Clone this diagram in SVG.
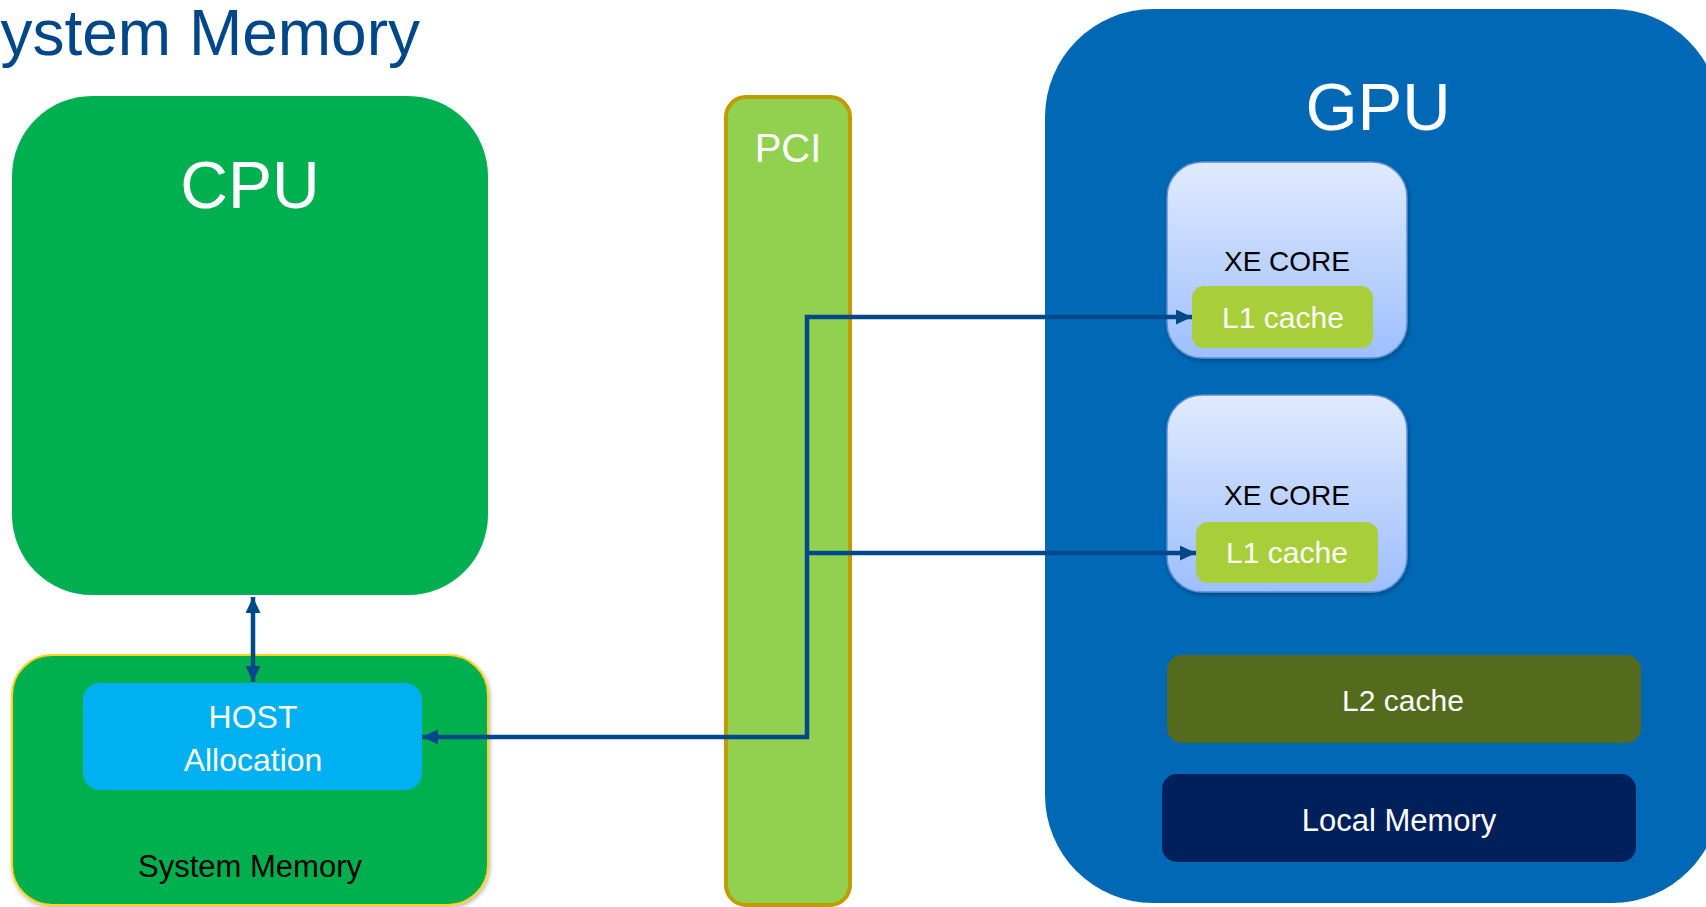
<svg xmlns="http://www.w3.org/2000/svg" width="1706" height="907" viewBox="0 0 1706 907">
  <style>
    text { font-family: "Liberation Sans", Arial, sans-serif; text-anchor: middle; }
    .white { fill: #ffffff; }
    .black { fill: #000000; }
    .link { fill: none; stroke: #00488A; stroke-width: 4.5; }
  </style>
  <defs>
    <marker id="arrow" viewBox="0 0 16 15" refX="16" refY="7.5" markerWidth="16" markerHeight="15" markerUnits="userSpaceOnUse" orient="auto-start-reverse">
      <path d="M0,0 L16,7.5 L0,15 z" fill="#00488A"/>
    </marker>
    <linearGradient id="coreFill" x1="0" y1="0" x2="0" y2="1">
      <stop offset="0" stop-color="#E0EAFE"/>
      <stop offset="1" stop-color="#9DBFFD"/>
    </linearGradient>
    <filter id="shadow" x="-10%" y="-10%" width="120%" height="120%">
      <feDropShadow dx="1" dy="2" stdDeviation="2" flood-color="#000000" flood-opacity="0.3"/>
    </filter>
  </defs>

  <!-- page title, running off the left edge -->
  <text x="420" y="55" font-size="64" fill="#00478A" style="text-anchor:end">System Memory</text>

  <!-- host side -->
  <g id="cpu">
    <rect x="12" y="96" width="476" height="499" rx="80" fill="#00B050"/>
    <text class="white" x="250" y="208" font-size="66">CPU</text>
  </g>

  <g id="system-memory">
    <rect x="12" y="655" width="476" height="250" rx="40" fill="#00B050" stroke="#FFD21F" stroke-width="2" filter="url(#shadow)"/>
    <text class="black" x="250" y="877" font-size="31">System Memory</text>
  </g>

  <g id="host-allocation">
    <rect x="83" y="683" width="339" height="107" rx="17" fill="#00B0F0"/>
    <text class="white" x="253" y="728" font-size="32">HOST</text>
    <text class="white" x="253" y="771" font-size="32">Allocation</text>
  </g>

  <!-- bus -->
  <g id="pci">
    <rect x="726" y="97" width="124" height="808" rx="20" fill="#92D050" stroke="#BF9D00" stroke-width="4"/>
    <text class="white" x="788" y="162" font-size="40">PCI</text>
  </g>

  <!-- device side -->
  <g id="gpu">
    <rect x="1045" y="9" width="675" height="894" rx="108" fill="#0068B5"/>
    <text class="white" x="1378" y="130" font-size="67">GPU</text>
  </g>

  <g id="xe-core-1">
    <rect x="1167" y="162" width="240" height="196" rx="35" fill="url(#coreFill)" stroke="#5C8FD6" stroke-width="1.5" filter="url(#shadow)"/>
    <text class="black" x="1287" y="271" font-size="28">XE CORE</text>
  </g>
  <g id="l1-cache-1">
    <rect x="1192" y="286" width="181" height="62" rx="12" fill="#A8CE3A"/>
    <text class="white" x="1283" y="328" font-size="30">L1 cache</text>
  </g>

  <g id="xe-core-2">
    <rect x="1167" y="395" width="240" height="197" rx="35" fill="url(#coreFill)" stroke="#5C8FD6" stroke-width="1.5" filter="url(#shadow)"/>
    <text class="black" x="1287" y="505" font-size="28">XE CORE</text>
  </g>
  <g id="l1-cache-2">
    <rect x="1196" y="522" width="182" height="61" rx="12" fill="#A8CE3A"/>
    <text class="white" x="1287" y="563" font-size="30">L1 cache</text>
  </g>

  <g id="l2-cache">
    <rect x="1167" y="655" width="474" height="88" rx="15" fill="#546A1D"/>
    <text class="white" x="1403" y="711" font-size="30">L2 cache</text>
  </g>

  <g id="local-memory">
    <rect x="1162" y="774" width="474" height="88" rx="15" fill="#00205B"/>
    <text class="white" x="1399" y="831" font-size="31">Local Memory</text>
  </g>

  <!-- connectors -->
  <g id="connectors">
    <line class="link" x1="253" y1="597" x2="253" y2="682" marker-start="url(#arrow)" marker-end="url(#arrow)"/>
    <polyline class="link" points="1192,317 807,317 807,737 422,737" marker-start="url(#arrow)" marker-end="url(#arrow)"/>
    <line class="link" x1="807" y1="553" x2="1196" y2="553" marker-end="url(#arrow)"/>
  </g>
</svg>
